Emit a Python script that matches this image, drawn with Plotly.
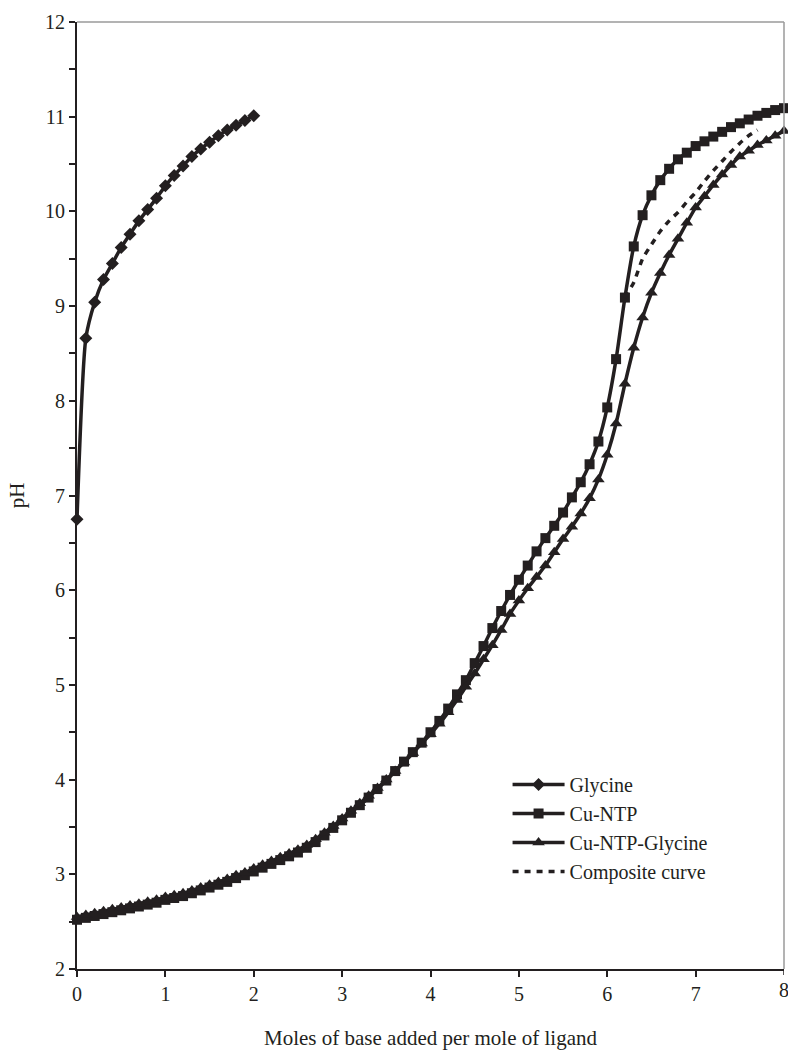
import plotly.graph_objects as go

# ---------------- data ----------------
gly_x = [round(0.1 * i, 1) for i in range(21)]
gly_ph = [6.75, 8.66, 9.04, 9.28, 9.45, 9.62, 9.76, 9.90, 10.02, 10.14, 10.27,
          10.38, 10.48, 10.58, 10.66, 10.73, 10.80, 10.86, 10.91, 10.96, 11.01]

cu_x = [round(0.1 * i, 1) for i in range(81)]
cu_ntp_ph = [2.52, 2.54, 2.56, 2.58, 2.60, 2.62, 2.64, 2.66, 2.68, 2.70,
             2.73, 2.75, 2.77, 2.80, 2.83, 2.86, 2.89, 2.92, 2.96, 2.99,
             3.03, 3.07, 3.11, 3.15, 3.19, 3.23, 3.28, 3.34, 3.41, 3.49,
             3.57, 3.65, 3.73, 3.81, 3.90, 3.99, 4.09, 4.19, 4.29, 4.39,
             4.50, 4.62, 4.75, 4.90, 5.05, 5.23, 5.41, 5.60, 5.78, 5.95,
             6.11, 6.26, 6.41, 6.55, 6.68, 6.82, 6.98, 7.14, 7.33, 7.57,
             7.93, 8.44, 9.09, 9.63, 9.96, 10.17, 10.33, 10.45, 10.55, 10.62,
             10.69, 10.74, 10.79, 10.84, 10.89, 10.93, 10.97, 11.01, 11.04, 11.07,
             11.09]

cu_gly_ph = [2.55, 2.57, 2.59, 2.61, 2.63, 2.65, 2.67, 2.69, 2.71, 2.73,
             2.76, 2.78, 2.80, 2.83, 2.86, 2.89, 2.92, 2.95, 2.99, 3.02,
             3.06, 3.10, 3.14, 3.18, 3.22, 3.26, 3.31, 3.37, 3.44, 3.51,
             3.59, 3.67, 3.75, 3.83, 3.91, 4.00, 4.09, 4.18, 4.28, 4.38,
             4.48, 4.59, 4.71, 4.84, 4.98, 5.12, 5.27, 5.42, 5.58, 5.75,
             5.89, 6.02, 6.14, 6.26, 6.40, 6.54, 6.67, 6.81, 6.97, 7.17,
             7.43, 7.76, 8.18, 8.56, 8.88, 9.14, 9.35, 9.54, 9.71, 9.88,
             10.04, 10.16, 10.28, 10.39, 10.49, 10.58, 10.64, 10.70, 10.75, 10.80,
             10.85]

comp_x = [round(6.2 + 0.1 * i, 1) for i in range(16)]
comp_ph = [9.09, 9.25, 9.50, 9.65, 9.79, 9.90, 9.99, 10.10, 10.20, 10.32,
           10.43, 10.53, 10.63, 10.72, 10.80, 10.86]

x_ticks = [0, 1, 2, 3, 4, 5, 6, 7, 8]
y_ticks = [2, 3, 4, 5, 6, 7, 8, 9, 10, 11, 12]

INK = "#231f20"
FONT = "Liberation Serif"

fig = go.Figure()

def add_series(x, y, name, symbol, size):
    fig.add_trace(go.Scatter(
        x=x, y=y, name=name, mode="lines+markers",
        line=dict(color=INK, width=3.5, shape="spline", smoothing=0.6),
        marker=dict(symbol=symbol, size=size, color=INK, line=dict(width=0)),
        cliponaxis=False,
    ))

add_series(gly_x, gly_ph, "Glycine", "diamond", 10)
add_series(cu_x, cu_ntp_ph, "Cu-NTP", "square", 10)
add_series(cu_x, cu_gly_ph, "Cu-NTP-Glycine", "triangle-up", 11)

fig.add_trace(go.Scatter(
    x=comp_x, y=comp_ph, name="Composite curve", mode="lines",
    line=dict(color=INK, width=3.5, dash="6px,6px", shape="spline", smoothing=0.6),
))

fig.update_xaxes(
    range=[0, 8], tickvals=x_ticks[:-1], ticktext=[str(v) for v in x_ticks[:-1]],
    showline=True, linecolor=INK, linewidth=2,
    ticks="outside", ticklen=6, tickwidth=1.5, tickcolor=INK,
    showgrid=False, zeroline=False,
    tickfont=dict(family=FONT, size=20, color=INK),
    title=dict(text="Moles of base added per mole of ligand",
               font=dict(family=FONT, size=21, color=INK), standoff=26),
)
# last x tick label sits on the figure edge, as in the original
fig.add_shape(type="line", xref="x", yref="paper", x0=x_ticks[-1], x1=x_ticks[-1],
              y0=0, y1=-0.0063, line=dict(color=INK, width=1.5))
fig.add_annotation(x=x_ticks[-1], y=0, xref="x", yref="paper", text=str(x_ticks[-1]),
                   showarrow=False, yanchor="top", xanchor="center", yshift=-8,
                   font=dict(family=FONT, size=20, color=INK))

fig.update_yaxes(
    range=[2, 12], tickvals=y_ticks, ticktext=[str(v) for v in y_ticks],
    showline=True, linecolor=INK, linewidth=2,
    ticks="outside", ticklen=6, tickwidth=1.5, tickcolor=INK,
    minor=dict(ticks="outside", dtick=0.5, ticklen=6, tickwidth=1.5, tickcolor=INK),
    showgrid=False, zeroline=False,
    tickfont=dict(family=FONT, size=20, color=INK),
    title=dict(text="pH", font=dict(family=FONT, size=21, color=INK), standoff=15),
)

# grey top and right frame lines
fig.add_shape(type="line", xref="paper", yref="paper", x0=0, x1=1, y0=1, y1=1,
              line=dict(color="#9a9a9a", width=1.5))
fig.add_shape(type="line", xref="paper", yref="paper", x0=1, x1=1, y0=0, y1=1,
              line=dict(color="#9a9a9a", width=1.5))

fig.update_layout(
    width=788, height=1050,
    margin=dict(l=77, r=4, t=22, b=74),
    plot_bgcolor="white", paper_bgcolor="white",
    font=dict(family=FONT, color=INK),
    showlegend=True,
    legend=dict(
        x=0.609, y=0.2155, xanchor="left", yanchor="top",
        bgcolor="rgba(0,0,0,0)", borderwidth=0,
        font=dict(family=FONT, size=20, color=INK),
        itemwidth=52, tracegroupgap=0,
    ),
)

fig.write_html("out.html")
